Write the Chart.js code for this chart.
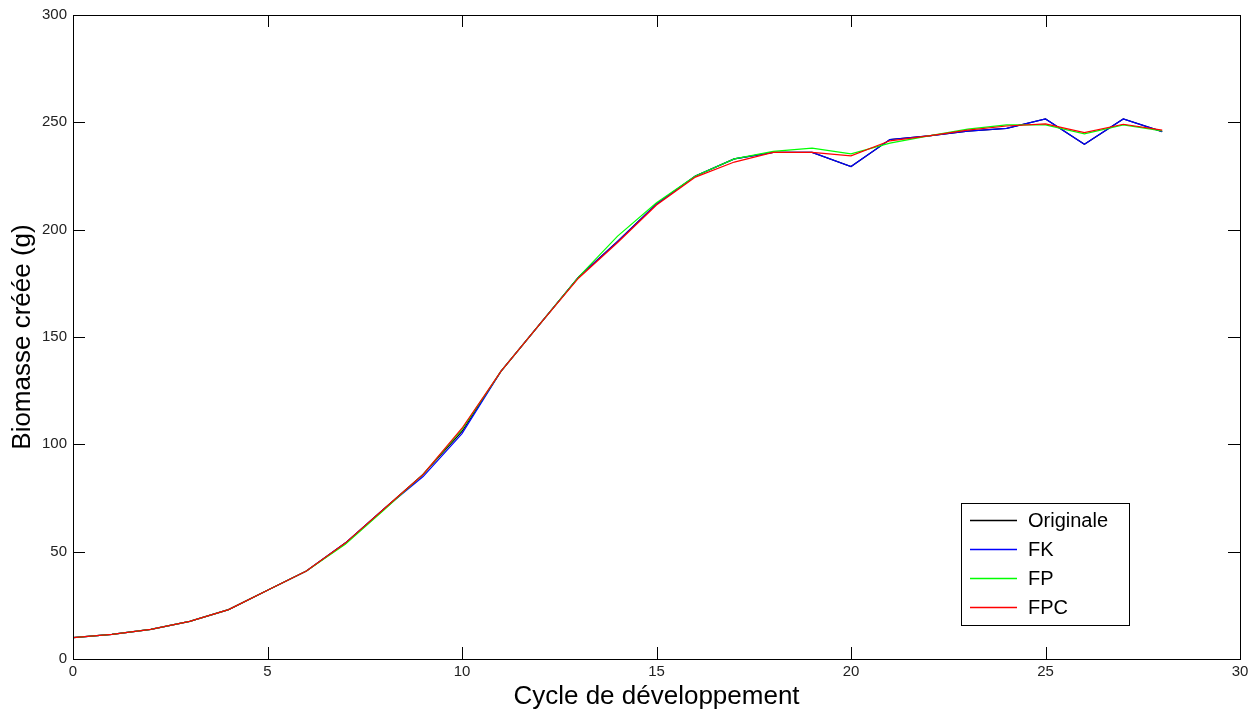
<!DOCTYPE html>
<html>
<head>
<meta charset="utf-8">
<script src="https://cdn.jsdelivr.net/npm/chart.js@4"></script>
<style>
  body { margin: 0; background: #fff; }
  #wrap { width: 1256px; height: 715px; }
</style>
</head>
<body>
<div id="wrap"><canvas id="biomasse" width="1256" height="715"></canvas></div>
<script>
// --- Data ---
const cycles = [0, 1, 2, 3, 4, 5, 6, 7, 8, 9, 10, 11, 12, 13, 14, 15, 16, 17, 18, 19, 20, 21, 22, 23, 24, 25, 26, 27, 28];
const originale = [10, 11.5, 13.8, 17.5, 23, 32, 41, 54, 70, 86, 106, 134, 156, 178, 194.5, 212, 225, 233, 236, 236, 229.4, 242, 243.7, 245.9, 247.2, 251.6, 239.8, 251.6, 245.7];
const fk = [10, 11.5, 13.8, 17.5, 23, 32, 41, 54, 70, 85, 105, 134, 156, 178, 194.5, 212, 225, 233, 236, 236, 229.4, 242, 243.7, 245.9, 247.2, 251.6, 239.8, 251.6, 245.7];
const fp = [10, 11.5, 13.8, 17.5, 23, 32, 41, 53.5, 69.5, 86, 107, 134, 156, 178, 197, 212.5, 225, 233, 236.5, 238, 235.3, 240.3, 243.7, 246.8, 248.8, 248.8, 244.6, 248.8, 246];
const fpc = [10, 11.5, 13.8, 17.5, 23, 32, 41, 54, 70, 86, 107.5, 134, 156, 177.5, 194, 211.5, 224.5, 231.5, 236, 236, 234.4, 241.4, 243.7, 246.4, 248.3, 249.3, 245.2, 249.1, 246.4];

const seriesNames = ['Originale', 'FK', 'FP', 'FPC'];
const seriesColors = ['#000000', '#0000ff', '#00ff00', '#ff0000'];

const xTicks = [0, 5, 10, 15, 20, 25, 30];
const yTicks = [0, 50, 100, 150, 200, 250, 300];

const FONT = '"Liberation Sans", Arial, Helvetica, sans-serif';

function toPoints(values) {
    return cycles.map((c, i) => ({ x: c, y: values[i] }));
}

// box round the plot, MATLAB-style ticks pointing inwards on all 4 sides
const boxPlugin = {
    id: 'boxPlugin',
    afterDraw(chart) {
        const { ctx, chartArea: a, scales } = chart;
        const len = 12;
        ctx.save();
        ctx.strokeStyle = '#000';
        ctx.lineWidth = 1;
        ctx.beginPath();
        xTicks.forEach(v => {
            const px = Math.round(scales.x.getPixelForValue(v)) + 0.5;
            ctx.moveTo(px, a.bottom); ctx.lineTo(px, a.bottom - len);
            ctx.moveTo(px, a.top); ctx.lineTo(px, a.top + len);
        });
        yTicks.forEach(v => {
            const py = Math.round(scales.y.getPixelForValue(v)) + 0.5;
            ctx.moveTo(a.left, py); ctx.lineTo(a.left + len, py);
            ctx.moveTo(a.right, py); ctx.lineTo(a.right - len, py);
        });
        ctx.stroke();
        ctx.strokeRect(Math.round(a.left) + 0.5, Math.round(a.top) + 0.5,
            Math.round(a.right - a.left), Math.round(a.bottom - a.top));
        ctx.restore();
    }
};

// legend box inside the plot, bottom right
const legendPlugin = {
    id: 'legendPlugin',
    afterDraw(chart) {
        const { ctx } = chart;
        const boxX = 961.5, boxY = 503.5, boxW = 168, boxH = 122;
        ctx.save();
        ctx.fillStyle = '#fff';
        ctx.fillRect(boxX, boxY, boxW, boxH);
        ctx.strokeStyle = '#000';
        ctx.lineWidth = 1;
        ctx.strokeRect(boxX, boxY, boxW, boxH);
        ctx.font = '20px ' + FONT;
        ctx.textBaseline = 'middle';
        seriesNames.forEach((name, i) => {
            const yy = 520.5 + i * 29;
            ctx.strokeStyle = seriesColors[i];
            ctx.lineWidth = 1.3;
            ctx.beginPath();
            ctx.moveTo(970, yy);
            ctx.lineTo(1017, yy);
            ctx.stroke();
            ctx.fillStyle = '#000';
            ctx.fillText(name, 1028, yy + 1);
        });
        ctx.restore();
    }
};

const ctx = document.getElementById('biomasse').getContext('2d');
new Chart(ctx, {
    type: 'line',
    data: {
        datasets: [
            { label: seriesNames[0], data: toPoints(originale), borderColor: seriesColors[0], order: 4 },
            { label: seriesNames[1], data: toPoints(fk), borderColor: seriesColors[1], order: 3 },
            { label: seriesNames[2], data: toPoints(fp), borderColor: seriesColors[2], order: 2 },
            { label: seriesNames[3], data: toPoints(fpc), borderColor: seriesColors[3], order: 1 }
        ]
    },
    options: {
        responsive: false,
        animation: false,
        layout: { padding: { top: 13, right: 16, left: 0, bottom: 0 } },
        elements: {
            line: { borderWidth: 1.2, tension: 0, fill: false },
            point: { radius: 0 }
        },
        plugins: {
            legend: { display: false },
            tooltip: { enabled: false }
        },
        scales: {
            x: {
                type: 'linear',
                min: 0,
                max: 30,
                afterBuildTicks: (scale) => { scale.ticks = xTicks.map(v => ({ value: v })); },
                afterFit: (scale) => { scale.height = 56; },
                grid: { display: false, drawTicks: false },
                border: { display: false },
                ticks: { color: '#222', font: { family: FONT, size: 15 }, padding: 4, maxRotation: 0 },
                title: {
                    display: true,
                    text: 'Cycle de développement',
                    color: '#000',
                    font: { family: FONT, size: 26 },
                    padding: { top: 3, bottom: 3 }
                }
            },
            y: {
                min: 0,
                max: 300,
                afterBuildTicks: (scale) => { scale.ticks = yTicks.map(v => ({ value: v })); },
                afterFit: (scale) => { scale.width = 73; },
                grid: { display: false, drawTicks: false },
                border: { display: false },
                ticks: { color: '#222', font: { family: FONT, size: 15 }, padding: 6 },
                title: {
                    display: true,
                    text: 'Biomasse créée (g)',
                    color: '#000',
                    font: { family: FONT, size: 26 },
                    padding: { top: 7, bottom: 7 }
                }
            }
        }
    },
    plugins: [boxPlugin, legendPlugin]
});
</script>
</body>
</html>
